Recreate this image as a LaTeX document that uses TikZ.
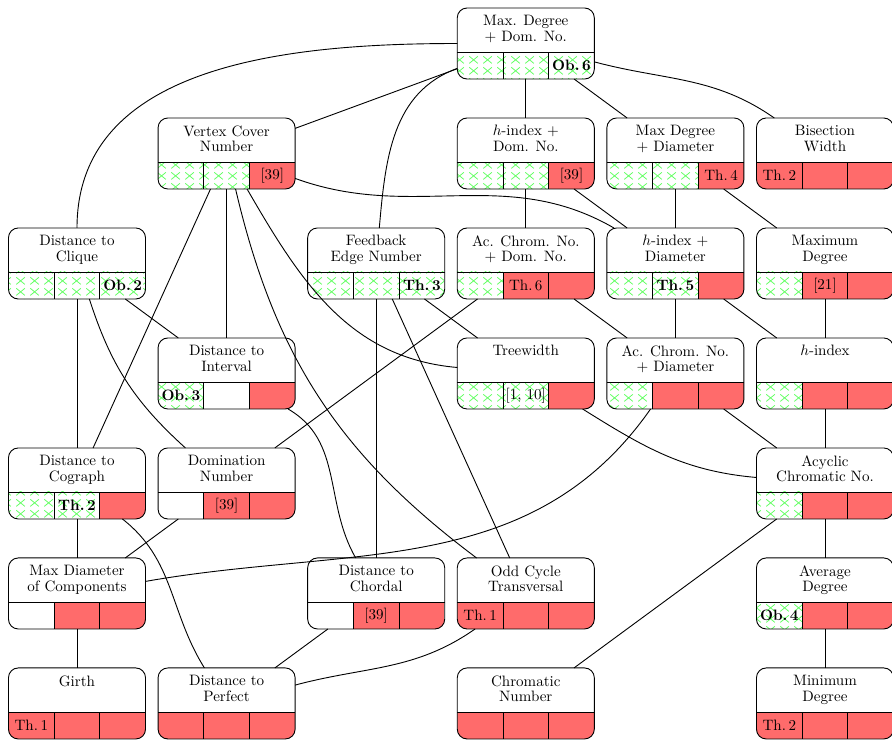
\documentclass[tikz,border=0pt]{standalone}
\usepackage{tikz}
\usetikzlibrary{patterns}

\pgfdeclarepatternformonly{xmarks}{\pgfpointorigin}{\pgfqpoint{9.4pt}{7pt}}{\pgfqpoint{9.4pt}{7pt}}{
  \pgfsetlinewidth{0.55pt}
  \pgfpathmoveto{\pgfqpoint{1.6pt}{1.1pt}}\pgfpathlineto{\pgfqpoint{7.6pt}{5.9pt}}
  \pgfpathmoveto{\pgfqpoint{1.6pt}{5.9pt}}\pgfpathlineto{\pgfqpoint{7.6pt}{1.1pt}}
  \pgfusepath{stroke}}

\tikzset{
  param/.style={fill=white, minimum width=3.197cm, minimum height=1.657cm, inner sep=0pt, outer sep=0pt},
  ptitle/.style={anchor=north, yshift=-4.8pt, align=center, inner sep=0pt, font=\fontsize{10}{10.2}\selectfont},
  pframe/.style={line width=0.6pt, rounded corners=6.5pt},
  blankcell/.style={},
  yescell/.style={pattern=xmarks, pattern color=green!60},
  nocell/.style={fill=red!58},
  celltext/.style={inner sep=0pt},
  link/.style={line width=0.6pt},
}

\newcommand{\pbw}{3.197}
\newcommand{\pbh}{1.657}
\newcommand{\pcw}{1.0657}
\newcommand{\pch}{0.63}

% name, position, title, cells (style/text)
\newcommand{\paramnode}[4]{%
  \node[param] (#1) at (#2) {};
  \node[ptitle] (#1-title) at (#1.north) {#3};
  \begin{scope}[shift={(#1.south west)}, x=1cm, y=1cm]
    \begin{scope}
      \clip[rounded corners=6.5pt] (0,0) rectangle (\pbw,\pbh);
      \foreach \cst/\ctx [count=\ci from 0] in {#4} {
        \path[\cst] (\ci*\pcw,0) rectangle ++(\pcw,\pch);
        \node[celltext] (#1-\ci) at (\ci*\pcw+0.5*\pcw, 0.5*\pch) {\ctx};
      }
    \end{scope}
    \draw[line width=0.6pt] (0,\pch) -- (\pbw,\pch)
      (\pcw,0) -- (\pcw,\pch) (2*\pcw,0) -- (2*\pcw,\pch);
    \draw[pframe] (0,0) rectangle (\pbw,\pbh);
  \end{scope}
}

\begin{document}
\begin{tikzpicture}[x=3.49cm, y=-2.566cm]
\useasboundingbox (-0.5147,-0.3955) rectangle (5.448,6.332);

% row 1
\paramnode{mdd}{3,0}{Max. Degree\\+ Dom. No.}{yescell/,yescell/,yescell/{\textbf{Ob.\,6}}}
% row 2
\paramnode{vc}{1,1}{Vertex Cover\\Number}{yescell/,yescell/,nocell/{[39]}}
\paramnode{hdom}{3,1}{$h$-index +\\Dom. No.}{yescell/,yescell/,nocell/{[39]}}
\paramnode{mddiam}{4,1}{Max Degree\\+ Diameter}{yescell/,yescell/,nocell/{Th.\,4}}
\paramnode{bw}{5,1}{Bisection\\Width}{nocell/{Th.\,2},nocell/,nocell/}
% row 3
\paramnode{dclique}{0,2}{Distance to\\Clique}{yescell/,yescell/,yescell/{\textbf{Ob.\,2}}}
\paramnode{fen}{2,2}{Feedback\\Edge Number}{yescell/,yescell/,yescell/{\textbf{Th.\,3}}}
\paramnode{acdom}{3,2}{Ac. Chrom. No.\\+ Dom. No.}{yescell/,nocell/{Th.\,6},nocell/}
\paramnode{hdiam}{4,2}{$h$-index +\\Diameter}{yescell/,yescell/{\textbf{Th.\,5}},nocell/}
\paramnode{maxdeg}{5,2}{Maximum\\Degree}{yescell/,nocell/{[21]},nocell/}
% row 4
\paramnode{dint}{1,3}{Distance to\\Interval}{yescell/{\textbf{Ob.\,3}},blankcell/,nocell/}
\paramnode{tw}{3,3}{Treewidth}{yescell/,yescell/{[1, 10]},nocell/}
\paramnode{acdiam}{4,3}{Ac. Chrom. No.\\+ Diameter}{yescell/,nocell/,nocell/}
\paramnode{hidx}{5,3}{$h$-index}{yescell/,nocell/,nocell/}
% row 5
\paramnode{dcog}{0,4}{Distance to\\Cograph}{yescell/,yescell/{\textbf{Th.\,2}},nocell/}
\paramnode{dom}{1,4}{Domination\\Number}{blankcell/,nocell/{[39]},nocell/}
\paramnode{acyc}{5,4}{Acyclic\\Chromatic No.}{yescell/,nocell/,nocell/}
% row 6
\paramnode{maxdiam}{0,5}{Max Diameter\\of Components}{blankcell/,nocell/,nocell/}
\paramnode{dchord}{2,5}{Distance to\\Chordal}{blankcell/,nocell/{[39]},nocell/}
\paramnode{oct}{3,5}{Odd Cycle\\Transversal}{nocell/{Th.\,1},nocell/,nocell/}
\paramnode{avgdeg}{5,5}{Average\\Degree}{yescell/{\textbf{Ob.\,4}},nocell/,nocell/}
% row 7
\paramnode{girth}{0,6}{Girth}{nocell/{Th.\,1},nocell/,nocell/}
\paramnode{dperf}{1,6}{Distance to\\Perfect}{nocell/,nocell/,nocell/}
\paramnode{chrom}{3,6}{Chromatic\\Number}{nocell/,nocell/,nocell/}
\paramnode{mindeg}{5,6}{Minimum\\Degree}{nocell/{Th.\,2},nocell/,nocell/}

% hierarchy
\draw[link] (mdd) to[out=180, in=90] (dclique);
\draw[link] (mdd) -- (vc);
\draw[link] (mdd) to[out=200, in=85] (fen);
\draw[link] (mdd) -- (hdom);
\draw[link] (mdd) -- (mddiam);
\draw[link] (mdd) to[out=-15, in=145] (bw);

\draw[link] (vc) to[out=-20, in=150] (hdiam);
\draw[link] (vc) -- (dcog);
\draw[link] (vc) -- (dint);
\draw[link] (vc) to[bend right=20] (oct);
\draw[link] (vc) to[out=-60, in=175] (tw);
\draw[link] (hdom) -- (hdiam);
\draw[link] (hdom) -- (acdom);
\draw[link] (mddiam) -- (hdiam);
\draw[link] (mddiam) -- (maxdeg);

\draw[link] (dclique) -- (dcog);
\draw[link] (dclique) to[bend right=15] (dom);
\draw[link] (dclique) -- (dint);
\draw[link] (fen) -- (dchord);
\draw[link] (fen) -- (tw);
\draw[link] (fen) -- (oct);
\draw[link] (acdom) -- (dom);
\draw[link] (acdom) -- (acdiam);
\draw[link] (hdiam) -- (acdiam);
\draw[link] (hdiam) -- (hidx);
\draw[link] (maxdeg) -- (hidx);

\draw[link] (dint) to[out=-30, in=120] (dchord);
\draw[link] (tw) to[out=-32, in=175] (acyc);
\draw[link] (acdiam) -- (acyc);
\draw[link] (acdiam) to[out=235, in=10] (maxdiam);
\draw[link] (hidx) -- (acyc);

\draw[link] (dcog) -- (maxdiam);
\draw[link] (dcog) to[out=-38, in=122] (dperf);
\draw[link] (dom) -- (maxdiam);
\draw[link] (acyc) -- (avgdeg);
\draw[link] (acyc) -- (chrom);

\draw[link] (maxdiam) -- (girth);
\draw[link] (dchord) -- (dperf);
\draw[link] (oct) to[out=215, in=15] (dperf);
\draw[link] (avgdeg) -- (mindeg);

\end{tikzpicture}
\end{document}
